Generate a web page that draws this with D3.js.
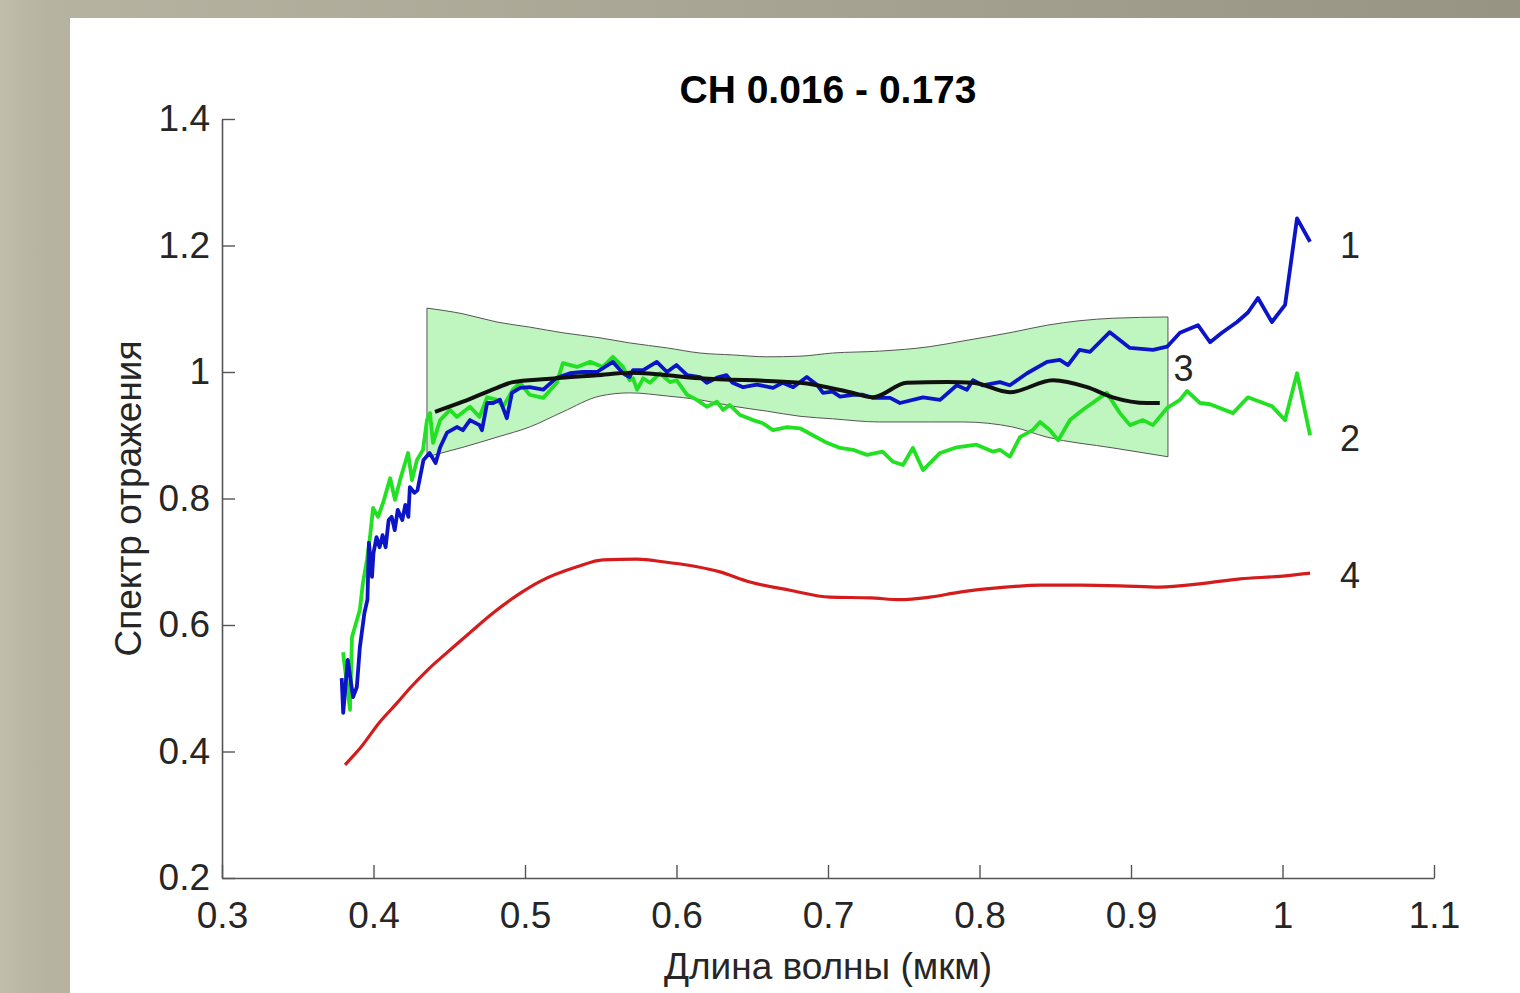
<!DOCTYPE html>
<html>
<head>
<meta charset="utf-8">
<script src="https://cdn.jsdelivr.net/npm/d3@7"></script>
<style>
  body { margin: 0; padding: 0; overflow: hidden; }
  svg { display: block; }
  text { font-family: "Liberation Sans", Arial, sans-serif; fill: #262626; }
</style>
</head>
<body>
<div id="chart"></div>
<script>
// tick values of the two axes
const xTickValues = [0.3, 0.4, 0.5, 0.6, 0.7, 0.8, 0.9, 1.0, 1.1];
const yTickValues = [0.2, 0.4, 0.6, 0.8, 1.0, 1.2, 1.4];

// curve 1 (blue) : [wavelength, reflectance]
const series1 = [[0.379,0.516],[0.380,0.461],[0.383,0.545],[0.3865,0.486],[0.389,0.502],[0.391,0.565],[0.394,0.619],[0.396,0.640],[0.397,0.730],[0.399,0.676],[0.400,0.714],[0.402,0.739],[0.404,0.723],[0.406,0.742],[0.408,0.723],[0.410,0.766],[0.412,0.771],[0.414,0.750],[0.416,0.782],[0.419,0.766],[0.421,0.790],[0.423,0.771],[0.424,0.818],[0.427,0.809],[0.429,0.813],[0.433,0.861],[0.437,0.872],[0.441,0.856],[0.444,0.881],[0.4485,0.904],[0.455,0.913],[0.459,0.908],[0.4637,0.924],[0.470,0.916],[0.4716,0.908],[0.475,0.951],[0.479,0.951],[0.4835,0.956],[0.488,0.927],[0.4914,0.967],[0.4967,0.975],[0.503,0.976],[0.512,0.972],[0.521,0.991],[0.5297,0.998],[0.538,1.000],[0.5475,1.000],[0.558,1.016],[0.5647,0.998],[0.569,0.992],[0.5713,1.003],[0.578,1.003],[0.587,1.016],[0.5937,1.000],[0.600,1.011],[0.607,0.995],[0.6155,0.992],[0.620,0.983],[0.6267,0.991],[0.633,0.995],[0.637,0.983],[0.644,0.976],[0.653,0.980],[0.6637,0.975],[0.670,0.983],[0.677,0.976],[0.686,0.992],[0.6927,0.980],[0.6967,0.967],[0.703,0.969],[0.708,0.961],[0.7165,0.964],[0.723,0.964],[0.7297,0.959],[0.741,0.959],[0.7475,0.951],[0.7627,0.960],[0.774,0.956],[0.785,0.979],[0.7917,0.972],[0.7957,0.987],[0.802,0.979],[0.8135,0.984],[0.820,0.979],[0.8314,0.998],[0.8446,1.016],[0.853,1.019],[0.8584,1.011],[0.866,1.035],[0.873,1.032],[0.886,1.063],[0.8993,1.038],[0.9145,1.035],[0.9238,1.040],[0.9323,1.062],[0.9442,1.074],[0.9522,1.047],[0.960,1.062],[0.970,1.079],[0.9772,1.094],[0.9838,1.117],[0.993,1.079],[1.0017,1.106],[1.0096,1.243],[1.0182,1.206]];

// curve 2 (green)
const series2 = [[0.3799,0.557],[0.3845,0.466],[0.3858,0.581],[0.391,0.624],[0.393,0.666],[0.3957,0.703],[0.3977,0.739],[0.3997,0.785],[0.403,0.771],[0.4063,0.793],[0.411,0.832],[0.4142,0.798],[0.4175,0.829],[0.4228,0.872],[0.4254,0.829],[0.4287,0.861],[0.4327,0.877],[0.4353,0.924],[0.4373,0.935],[0.4393,0.888],[0.444,0.924],[0.4505,0.940],[0.455,0.929],[0.4637,0.945],[0.470,0.929],[0.475,0.960],[0.4815,0.956],[0.4855,0.945],[0.492,0.972],[0.4967,0.983],[0.503,0.964],[0.512,0.959],[0.521,0.983],[0.525,1.014],[0.5343,1.008],[0.543,1.016],[0.5515,1.008],[0.558,1.024],[0.5647,1.008],[0.569,0.987],[0.5713,0.990],[0.574,0.972],[0.578,0.990],[0.5825,0.983],[0.589,0.998],[0.5957,0.984],[0.600,0.987],[0.607,0.964],[0.6135,0.956],[0.620,0.945],[0.6267,0.953],[0.6307,0.940],[0.635,0.948],[0.642,0.932],[0.6505,0.924],[0.657,0.919],[0.6637,0.908],[0.673,0.913],[0.6815,0.911],[0.690,0.900],[0.6993,0.888],[0.708,0.880],[0.7165,0.877],[0.7257,0.869],[0.736,0.874],[0.743,0.858],[0.7495,0.853],[0.756,0.880],[0.7627,0.845],[0.774,0.872],[0.785,0.881],[0.798,0.885],[0.809,0.874],[0.8135,0.877],[0.820,0.866],[0.8267,0.897],[0.835,0.908],[0.840,0.921],[0.8465,0.908],[0.852,0.892],[0.8597,0.924],[0.868,0.940],[0.884,0.967],[0.8927,0.935],[0.8993,0.916],[0.908,0.924],[0.9145,0.916],[0.9238,0.943],[0.9323,0.956],[0.937,0.970],[0.9455,0.951],[0.9522,0.949],[0.9673,0.935],[0.9772,0.960],[0.993,0.946],[1.0017,0.924],[1.0096,0.998],[1.0182,0.900]];

// curve 3 (black, mean) and its band : [wavelength, lower, upper]
const series3 = [[0.4406,0.937],[0.459,0.953],[0.4815,0.975],[0.492,0.984],[0.5145,0.989],[0.5475,0.995],[0.57,0.999],[0.6155,0.990],[0.6815,0.983],[0.7145,0.968],[0.7297,0.960],[0.752,0.983],[0.7785,0.984],[0.7957,0.983],[0.820,0.968],[0.8485,0.987],[0.871,0.976],[0.888,0.960],[0.9106,0.951],[0.919,0.951]];
const band3 = [[0.4353,0.866,1.101],[0.459,0.881,1.092],[0.4815,0.897,1.079],[0.503,0.913,1.071],[0.525,0.937,1.062],[0.5495,0.962,1.054],[0.569,0.967,1.046],[0.594,0.962,1.038],[0.6155,0.956,1.030],[0.637,0.946,1.027],[0.660,0.938,1.024],[0.6815,0.930,1.025],[0.703,0.926,1.030],[0.734,0.921,1.033],[0.767,0.921,1.040],[0.789,0.921,1.049],[0.822,0.913,1.063],[0.8446,0.897,1.074],[0.888,0.880,1.085],[0.9244,0.866,1.087]];

// curve 4 (red)
const series4 = [[0.3812,0.379],[0.3911,0.405],[0.4043,0.447],[0.4153,0.476],[0.424,0.500],[0.4353,0.528],[0.4483,0.556],[0.4637,0.588],[0.4789,0.619],[0.4967,0.650],[0.510,0.669],[0.5343,0.692],[0.5515,0.703],[0.574,0.704],[0.591,0.700],[0.6287,0.684],[0.6485,0.668],[0.675,0.655],[0.7013,0.644],[0.7277,0.643],[0.7475,0.640],[0.767,0.644],[0.787,0.652],[0.8135,0.659],[0.840,0.663],[0.8663,0.663],[0.8927,0.662],[0.919,0.660],[0.9455,0.665],[0.972,0.673],[0.9983,0.677],[1.0182,0.682]];

// curve numbers, in data coordinates
const curveLabels = [
  {text: "1", x: 1.038, y: 1.2},
  {text: "2", x: 1.038, y: 0.896},
  {text: "3", x: 0.928, y: 1.006},
  {text: "4", x: 1.038, y: 0.679}
];

const chartTitle = "СН 0.016 - 0.173";
const xLabel = "Длина волны (мкм)";
const yLabel = "Спектр отражения";

// page size
const W = 1520, H = 993;

const svg = d3.select("#chart")
  .append("svg")
    .attr("width", W)
    .attr("height", H);

// slide background with a white panel
const grad = svg.append("defs").append("linearGradient")
    .attr("id", "bg")
    .attr("x1", "0%").attr("x2", "100%").attr("y1", "0%").attr("y2", "0%");
grad.append("stop").attr("offset", "0%").attr("stop-color", "#c0bdab");
grad.append("stop").attr("offset", "3%").attr("stop-color", "#b6b3a1");
grad.append("stop").attr("offset", "100%").attr("stop-color", "#989484");

svg.append("rect")
  .attr("width", W).attr("height", H)
  .attr("fill", "url(#bg)");
svg.append("rect")
  .attr("x", 70).attr("y", 18)
  .attr("width", W - 70).attr("height", H - 18)
  .attr("fill", "#ffffff");

// scales
const x = d3.scaleLinear().domain([0.3, 1.1]).range([222, 1434]);
const y = d3.scaleLinear().domain([0.2, 1.4]).range([878, 119]);

const fmt = d3.format("~g");

// shaded band for curve 3
svg.append("path")
  .datum(band3)
  .attr("d", d3.area()
    .curve(d3.curveMonotoneX)
    .x(d => x(d[0]))
    .y0(d => y(d[1]))
    .y1(d => y(d[2])))
  .attr("fill", "#bff5bf")
  .attr("stroke", "#555")
  .attr("stroke-width", 1);

const line = d3.line()
  .x(d => x(d[0]))
  .y(d => y(d[1]));

// curve 4
svg.append("path")
  .datum(series4)
  .attr("d", line.curve(d3.curveMonotoneX))
  .attr("fill", "none")
  .attr("stroke", "#d41c1c")
  .attr("stroke-width", 3.2);

line.curve(d3.curveLinear);

// curve 2
svg.append("path")
  .datum(series2)
  .attr("d", line)
  .attr("fill", "none")
  .attr("stroke", "#22e022")
  .attr("stroke-width", 3.8)
  .attr("stroke-linejoin", "round");

// curve 1
svg.append("path")
  .datum(series1)
  .attr("d", line)
  .attr("fill", "none")
  .attr("stroke", "#0c14c8")
  .attr("stroke-width", 3.8)
  .attr("stroke-linejoin", "round");

// curve 3
svg.append("path")
  .datum(series3)
  .attr("d", d3.line().curve(d3.curveMonotoneX).x(d => x(d[0])).y(d => y(d[1])))
  .attr("fill", "none")
  .attr("stroke", "#111")
  .attr("stroke-width", 4);

// axes, ticks pointing inside
const xAxis = svg.append("g")
  .attr("transform", `translate(0, ${y(0.2)})`)
  .call(d3.axisBottom(x)
    .tickValues(xTickValues)
    .tickFormat(fmt)
    .tickSizeInner(-13)
    .tickSizeOuter(0)
    .tickPadding(24));

const yAxis = svg.append("g")
  .attr("transform", `translate(${x(0.3)}, 0)`)
  .call(d3.axisLeft(y)
    .tickValues(yTickValues)
    .tickFormat(fmt)
    .tickSizeInner(-13)
    .tickSizeOuter(0)
    .tickPadding(12));

[xAxis, yAxis].forEach(g => {
  g.select(".domain").attr("stroke", "#555").attr("stroke-width", 1.6);
  g.selectAll(".tick line").attr("stroke", "#555").attr("stroke-width", 1.4);
  g.selectAll(".tick text")
    .style("font-family", "'Liberation Sans', Arial, sans-serif")
    .style("font-size", "37px")
    .attr("fill", "#262626");
});

// curve numbers
svg.selectAll(".curve-label")
  .data(curveLabels)
  .enter()
  .append("text")
    .attr("class", "curve-label")
    .attr("x", d => x(d.x))
    .attr("y", d => y(d.y))
    .attr("dy", "0.36em")
    .style("font-size", "36px")
    .text(d => d.text);

// title
svg.append("text")
  .attr("x", (x(0.3) + x(1.1)) / 2)
  .attr("y", 103)
  .attr("text-anchor", "middle")
  .style("font-size", "39px")
  .style("font-weight", "bold")
  .style("fill", "#000")
  .text(chartTitle);

// axis labels
svg.append("text")
  .attr("x", (x(0.3) + x(1.1)) / 2)
  .attr("y", 979)
  .attr("text-anchor", "middle")
  .style("font-size", "37px")
  .text(xLabel);

svg.append("text")
  .attr("transform", `translate(141, ${(y(0.2) + y(1.4)) / 2}) rotate(-90)`)
  .attr("text-anchor", "middle")
  .style("font-size", "37px")
  .text(yLabel);
</script>
</body>
</html>
